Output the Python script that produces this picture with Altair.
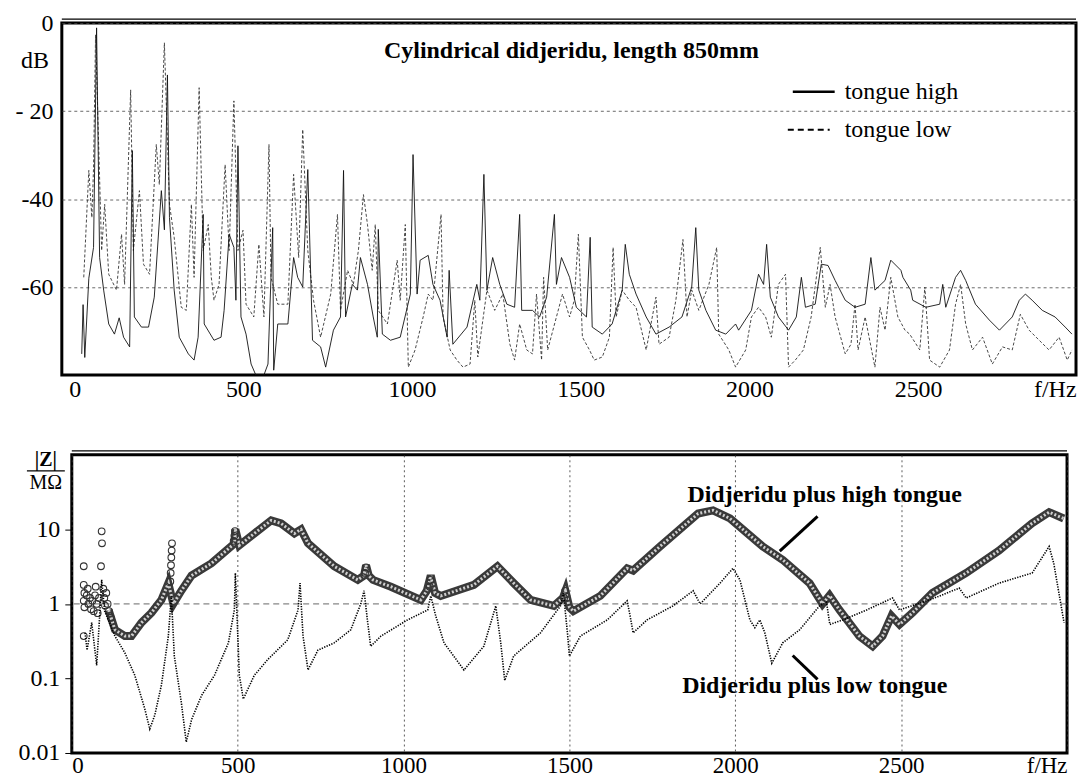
import altair as alt
import pandas as pd

FONT = "Liberation Serif"

# ---------------- top panel: spectra (f in Hz, level in dB) ----------------
TOP_HIGH_F = [21, 25, 30, 42, 56, 65, 74, 86, 101, 118,
              132, 145, 163, 171, 177, 198, 219, 236, 257, 266,
              275, 281, 295, 310, 337, 354, 366, 381, 384, 413,
              434, 443, 458, 472, 478, 484, 493, 508, 523, 537,
              561, 573, 587, 590, 602, 632, 649, 661, 676, 691,
              705, 729, 744, 767, 788, 797, 803, 823, 838, 847,
              868, 885, 897, 900, 912, 936, 965, 995, 1003, 1015,
              1024, 1048, 1062, 1083, 1104, 1110, 1121, 1163, 1192, 1201,
              1213, 1222, 1239, 1260, 1281, 1304, 1319, 1325, 1357, 1378,
              1399, 1422, 1428, 1443, 1467, 1487, 1517, 1528, 1534, 1564,
              1593, 1623, 1632, 1644, 1664, 1694, 1723, 1762, 1800, 1829,
              1841, 1850, 1871, 1900, 1930, 1959, 1968, 2006, 2027, 2042,
              2051, 2062, 2086, 2116, 2139, 2154, 2166, 2195, 2213, 2233,
              2254, 2284, 2313, 2343, 2360, 2372, 2402, 2419, 2449, 2455,
              2478, 2484, 2523, 2564, 2573, 2582, 2611, 2626, 2641, 2670,
              2711, 2741, 2779, 2800, 2818, 2838, 2868, 2906, 2936, 2956]
TOP_HIGH_DB = [-75.2, -64, -76, -58, -51, -1.1, -53.3, -60.7, -68.4, -70.7,
               -67, -71.4, -73.6, -29, -66.8, -69.1, -69.1, -62.3, -38.1, -47,
               -11.8, -44.2, -60.7, -71.4, -75.2, -76.6, -71.4, -43.5, -68.4, -72.1,
               -71.4, -65.3, -48, -51, -63, -27.9, -66.8, -70.7, -77.5, -80,
               -80, -77.5, -46.5, -78.9, -68.4, -68.4, -53.3, -57.8, -60, -33.3,
               -72.1, -73.6, -78.2, -69.8, -66.8, -33.5, -66.8, -59.4, -60.7, -53.3,
               -59.4, -66.8, -71.4, -46.9, -70.7, -72.1, -71.4, -61.6, -29.9, -61.6,
               -53.9, -52.8, -59.4, -63, -71.4, -56.2, -73, -69.1, -59.4, -63,
               -34.4, -60.7, -53.3, -59.4, -63.9, -64.6, -43.5, -65.3, -65.3, -66.8,
               -62.3, -43.5, -59.4, -53.3, -57.8, -64.6, -66.8, -48.7, -69.1, -70.7,
               -68.4, -60.7, -50.3, -57.1, -61.6, -66.8, -70.7, -69.1, -66.8, -60,
               -46.5, -60.7, -65.3, -69.8, -70.7, -68.4, -69.8, -65.3, -57.1, -59.4,
               -50.3, -62.3, -66.8, -69.8, -66.8, -57.8, -64.6, -63.9, -54.8, -55.1,
               -58.5, -63, -64.6, -63.9, -53.3, -60.7, -58.5, -53.9, -56.2, -57.8,
               -60.7, -63, -64.6, -63.9, -59.4, -64.6, -57.8, -56.2, -58.5, -63.9,
               -67.5, -69.8, -66.8, -63, -61.6, -63, -65.3, -66.8, -69.1, -70.7]

TOP_LOW_F = [27, 42, 51, 56, 62, 80, 89, 101, 124, 139,
             148, 166, 174, 192, 204, 222, 242, 251, 266, 281,
             295, 316, 331, 346, 354, 369, 381, 396, 405, 413,
             428, 446, 458, 472, 484, 499, 508, 531, 546, 561,
             576, 582, 602, 632, 649, 664, 676, 691, 708, 729,
             759, 779, 788, 809, 826, 841, 856, 868, 882, 891,
             900, 927, 956, 965, 980, 989, 1009, 1033, 1048, 1062,
             1086, 1092, 1113, 1133, 1151, 1172, 1186, 1195, 1222, 1245,
             1269, 1290, 1304, 1319, 1340, 1357, 1369, 1384, 1390, 1402,
             1428, 1446, 1467, 1481, 1493, 1505, 1526, 1540, 1564, 1585,
             1596, 1605, 1623, 1644, 1664, 1694, 1723, 1732, 1762, 1782,
             1803, 1815, 1829, 1850, 1880, 1903, 1909, 1939, 1959, 1989,
             2006, 2027, 2048, 2065, 2086, 2107, 2116, 2136, 2160, 2183,
             2210, 2225, 2239, 2254, 2284, 2301, 2313, 2322, 2343, 2372,
             2387, 2402, 2419, 2440, 2461, 2475, 2505, 2520, 2534, 2564,
             2593, 2611, 2626, 2641, 2661, 2691, 2720, 2750, 2779, 2803,
             2829, 2859, 2888, 2918, 2942, 2956]
TOP_LOW_DB = [-57.8, -33.5, -44.2, -32.9, -2.7, -51.7, -41.2, -57.1, -60.7, -48,
              -59.4, -15.2, -51.7, -38.1, -54.8, -57.1, -27.6, -36.7, -4.5, -41.2,
              -48.7, -64.6, -65.3, -41.2, -57.8, -14.7, -51.7, -45.8, -57.8, -63,
              -59.4, -32.2, -51.7, -17.7, -51.7, -47.1, -63.9, -66.8, -50.3, -66.8,
              -27.6, -57.8, -63.9, -63.9, -34.4, -53.3, -24.2, -51.7, -63, -71.4,
              -61.6, -43.5, -65.3, -56.2, -59.4, -51.7, -39, -45.8, -56.2, -45.8,
              -65.3, -68.4, -53.9, -63, -45.8, -78.2, -74.3, -66.8, -61.6, -63,
              -43.5, -66.8, -74.3, -76.6, -78.2, -77.5, -63, -75.9, -60.7, -65.3,
              -61.6, -73, -76.6, -68.4, -74.3, -75.2, -61.6, -76.6, -57.8, -74.3,
              -66.8, -61.6, -66.8, -63, -48, -71.4, -74.3, -76.6, -75.9, -71.4,
              -51, -66.8, -60.7, -63, -64.6, -74.3, -62.3, -73, -71.4, -63,
              -49.2, -66.8, -60.7, -65.3, -59.4, -51, -70.7, -74.3, -78.2, -74.3,
              -66.8, -64.6, -66.8, -71.4, -59.4, -57.1, -78.2, -76.6, -74.3, -66.8,
              -51, -64.6, -59.4, -66.8, -75.2, -73, -63.9, -74.3, -66.8, -78.2,
              -64.6, -69.8, -57.8, -66.8, -69.8, -70.7, -74.3, -60, -76.6, -78.2,
              -74.3, -63.9, -59.4, -68.4, -74.3, -71.4, -77.5, -73.6, -74.3, -66.2,
              -69.8, -72.1, -74.3, -71.4, -76.6, -74.3]

TOP_XTICKS = [0, 500, 1000, 1500, 2000, 2500, 2968]
TOP_YTICKS = [0, -20, -40, -60]

# ---------------- bottom panel: impedance |Z| in MOhm ----------------
IMP_HIGH_F = [111, 130, 160, 180, 210, 240, 270, 291,
              306, 330, 361, 421, 491, 493, 505, 550, 601, 631,
              671, 691, 712, 791, 862, 881, 887, 895, 908, 962,
              1052, 1070, 1082, 1095, 1112, 1212, 1283, 1332, 1383, 1453,
              1480, 1488, 1500, 1512, 1593, 1674, 1692, 1773, 1888, 1933,
              1984, 2083, 2143, 2224, 2263, 2284, 2314, 2374, 2414, 2444,
              2471, 2495, 2534, 2594, 2696, 2795, 2894, 2946, 2990]
IMP_HIGH_Z = [0.83, 0.45, 0.37, 0.37, 0.56, 0.76, 1.13, 1.9,
              1.0, 1.5, 2.4, 3.5, 6.5, 10, 6.1, 8.8, 13.2, 12,
              8.8, 10, 6.5, 3.2, 2.1, 2.4, 3.3, 2.4, 2.1, 1.7,
              1.13, 1.5, 2.4, 1.4, 1.28, 1.8, 3.2, 1.9, 1.13, 0.94,
              1.2, 1.5, 0.9, 0.8, 1.28, 3.0, 2.8, 5.9, 16.3, 18,
              14, 5.9, 3.9, 1.9, 1.0, 1.3, 0.83, 0.37, 0.27, 0.37,
              0.69, 0.53, 0.76, 1.4, 2.6, 5.2, 12, 17, 14]

IMP_HIGH_SC_F = [36, 36, 38, 36, 38, 36, 45, 48, 50, 55, 58, 62, 66, 70, 72, 75,
                 78, 82, 88, 90, 91, 95, 98, 100, 104, 108, 112, 118,
                 297, 298, 299, 300, 301, 302, 488, 490, 492, 884, 887,
                 1079, 1081, 1484, 1487]
IMP_HIGH_SC_Z = [3.2, 1.8, 1.4, 1.1, 0.9, 0.37, 1.3, 1.6, 1.0, 1.2, 0.85, 1.1, 0.8, 1.3, 1.7, 1.0,
                 0.75, 1.2, 3.2, 9.4, 6.5, 1.6, 1.2, 0.95, 1.4, 1.0, 0.8, 0.65,
                 2.0, 2.6, 3.3, 4.2, 5.2, 6.5, 7.0, 8.2, 9.5, 2.6, 3.1,
                 1.7, 2.1, 1.2, 1.5]

IMP_LOW_F = [40, 46, 60, 75, 84, 90, 99, 130, 160, 190,
             220, 235, 250, 270, 291, 300, 309, 330, 345, 361,
             391, 430, 472, 490, 493, 505, 517, 550, 591, 651,
             682, 688, 697, 712, 742, 791, 841, 871, 881, 891,
             901, 932, 1012, 1073, 1082, 1097, 1122, 1182, 1242, 1278,
             1293, 1305, 1332, 1413, 1473, 1482, 1494, 1500, 1533, 1614,
             1674, 1683, 1692, 1734, 1812, 1873, 1894, 1954, 1993, 2014,
             2044, 2059, 2074, 2089, 2110, 2143, 2194, 2254, 2275, 2285,
             2324, 2396, 2474, 2495, 2590, 2675, 2696, 2795, 2895, 2946,
             2960, 2991]
IMP_LOW_Z = [0.41, 0.24, 0.56, 0.15, 0.69, 2.1, 0.8, 0.37, 0.22, 0.11,
             0.039, 0.021, 0.032, 0.081, 0.37, 1.28, 0.2, 0.048, 0.014, 0.028,
             0.059, 0.11, 0.30, 0.83, 2.6, 0.11, 0.053, 0.11, 0.18, 0.33,
             0.83, 1.9, 0.37, 0.13, 0.24, 0.30, 0.45, 1.0, 1.5, 0.61,
             0.27, 0.37, 0.61, 0.83, 1.28, 0.69, 0.30, 0.13, 0.27, 0.94,
             0.30, 0.094, 0.2, 0.41, 0.94, 1.4, 0.41, 0.2, 0.37, 0.61,
             1.1, 0.69, 0.41, 0.61, 0.94, 1.5, 1.0, 1.9, 3.0, 2.1,
             0.61, 0.48, 0.61, 0.41, 0.16, 0.30, 0.45, 0.94, 1.05, 0.53,
             0.61, 0.83, 1.2, 0.83, 1.15, 1.63, 1.2, 1.9, 2.6, 5.9,
             3.5, 0.56]

BOT_XTICKS = [0, 500, 1000, 1500, 2000, 2500, 3000]
BOT_YTICKS = [0.01, 0.1, 1, 10]

# annotation pointer segments (f, |Z|) -> (f2, |Z|2)
PTR_F = [2248, 2173]
PTR_Z = [14.9, 0.203]
PTR_F2 = [2134, 2248]
PTR_Z2 = [5.1, 0.097]

TOP_W, TOP_H = 1017, 353
BOT_W, BOT_H = 998, 299

one = pd.DataFrame({"k": [0]})


def txt(text, x, y, size=24, weight="normal", align="center"):
    return alt.Chart(one).mark_text(
        text=text, font=FONT, fontSize=size, fontWeight=weight,
        align=align, baseline="middle", color="black"
    ).encode(x=alt.value(x), y=alt.value(y))


# ---------------- top chart ----------------
xs_top = alt.Scale(domain=[-38, 2968], nice=False, zero=False)
ys_top = alt.Scale(domain=[-80, 0], nice=False)
x_top_axis = alt.Axis(values=TOP_XTICKS, format="d",
                      labelExpr="datum.value > 2900 ? 'f/Hz' : datum.label",
                      grid=False, ticks=False, domain=False, labelFlush=True,
                      labelFont=FONT, labelFontSize=24, labelColor="black",
                      labelPadding=3, title=None)
y_top_axis = alt.Axis(values=TOP_YTICKS,
                      labelExpr="datum.value == 0 ? '0' : (datum.value == -20 ? '- 20' : '-' + abs(datum.value))",
                      grid=True, gridDash=[3, 3], gridColor="#444", gridWidth=0.8,
                      ticks=False, domain=False, labelFont=FONT, labelFontSize=24,
                      labelColor="black", labelPadding=9, title=None)

df_th = pd.DataFrame({"f": TOP_HIGH_F, "db": TOP_HIGH_DB})
df_tl = pd.DataFrame({"f": TOP_LOW_F, "db": TOP_LOW_DB})

top_low = alt.Chart(df_tl).mark_line(color="#333", strokeWidth=0.9, strokeDash=[3, 2], clip=True).encode(
    x=alt.X("f:Q", scale=xs_top, axis=x_top_axis),
    y=alt.Y("db:Q", scale=ys_top, axis=y_top_axis))
top_high = alt.Chart(df_th).mark_line(color="#111", strokeWidth=0.9, clip=True).encode(
    x=alt.X("f:Q", scale=xs_top), y=alt.Y("db:Q", scale=ys_top))

top_border2 = alt.Chart(one).mark_rule(color="black", strokeWidth=1.2).encode(
    x=alt.value(0), x2=alt.value(TOP_W), y=alt.value(-4))
leg_solid = alt.Chart(one).mark_rule(color="black", strokeWidth=2.5).encode(
    x=alt.value(733), x2=alt.value(775), y=alt.value(69))
leg_dash = alt.Chart(one).mark_rule(color="black", strokeWidth=2, strokeDash=[6, 4]).encode(
    x=alt.value(728), x2=alt.value(770), y=alt.value(107))

top = alt.layer(
    top_low, top_high, top_border2, leg_solid, leg_dash,
    txt("Cylindrical didjeridu, length 850mm", 511, 28, weight="bold"),
    txt("tongue high", 785, 69, align="left"),
    txt("tongue low", 785, 107, align="left"),
    txt("dB", -13, 38, align="right"),
).properties(width=TOP_W, height=TOP_H)

# ---------------- bottom chart ----------------
xs_bot = alt.Scale(domain=[0, 3000], nice=False, zero=False)
ys_bot = alt.Scale(type="log", domain=[0.01, 100], nice=False)
x_bot_axis = alt.Axis(values=BOT_XTICKS, format="d",
                      labelExpr="datum.value == 3000 ? 'f/Hz' : datum.label",
                      grid=True, gridDash=[2, 3], gridColor="#333", gridWidth=0.8,
                      ticks=False, domain=False, labelFlush=True,
                      labelFont=FONT, labelFontSize=23, labelColor="black",
                      labelPadding=2, title=None)
y_bot_axis = alt.Axis(values=BOT_YTICKS, format="~g", grid=False,
                      ticks=True, tickSize=7, tickColor="black", domain=False,
                      labelFont=FONT, labelFontSize=24, labelColor="black",
                      labelPadding=5, title=None, labelOverlap=False)

df_bh = pd.DataFrame({"f": IMP_HIGH_F, "z": IMP_HIGH_Z})
df_bs = pd.DataFrame({"f": IMP_HIGH_SC_F, "z": IMP_HIGH_SC_Z})
df_bl = pd.DataFrame({"f": IMP_LOW_F, "z": IMP_LOW_Z})
df_ptr = pd.DataFrame({"f": PTR_F, "z": PTR_Z, "f2": PTR_F2, "z2": PTR_Z2})

grid1 = alt.Chart(one).mark_rule(color="#555", strokeWidth=0.9, strokeDash=[6, 4]).encode(
    y=alt.datum(1, scale=ys_bot))
band_outer = alt.Chart(df_bh).mark_line(color="#3a3a3a", strokeWidth=8, clip=True).encode(
    x=alt.X("f:Q", scale=xs_bot, axis=x_bot_axis),
    y=alt.Y("z:Q", scale=ys_bot, axis=y_bot_axis))
band_inner = alt.Chart(df_bh).mark_line(color="#cfcfcf", strokeWidth=3, strokeDash=[2, 2], clip=True).encode(
    x=alt.X("f:Q", scale=xs_bot), y=alt.Y("z:Q", scale=ys_bot))
scatter = alt.Chart(df_bs).mark_point(shape="circle", filled=False, size=45, strokeWidth=1.1,
                                      color="#333", opacity=1).encode(
    x=alt.X("f:Q", scale=xs_bot), y=alt.Y("z:Q", scale=ys_bot))
low_line = alt.Chart(df_bl).mark_line(color="black", strokeWidth=1.6, strokeDash=[1.3, 1.3], clip=True).encode(
    x=alt.X("f:Q", scale=xs_bot), y=alt.Y("z:Q", scale=ys_bot))
pointers = alt.Chart(df_ptr).mark_rule(color="black", strokeWidth=3).encode(
    x=alt.X("f:Q", scale=xs_bot), y=alt.Y("z:Q", scale=ys_bot),
    x2="f2:Q", y2="z2:Q")
bot_border2 = alt.Chart(one).mark_rule(color="black", strokeWidth=1.2).encode(
    x=alt.value(0), x2=alt.value(BOT_W), y=alt.value(-4))
frac = alt.Chart(one).mark_rule(color="black", strokeWidth=1.2).encode(
    x=alt.value(-45), x2=alt.value(-7), y=alt.value(16))

bottom = alt.layer(
    grid1, band_outer, band_inner, scatter, low_line, pointers, bot_border2, frac,
    txt("Didjeridu plus high tongue", 755, 40, weight="bold"),
    txt("Didjeridu plus low tongue", 745, 232, weight="bold"),
    txt("|Z|", -26, 5, size=20, weight="bold"),
    txt("M\u03a9", -26, 28, size=20),
).properties(width=BOT_W, height=BOT_H)

spacer = alt.Chart(one).mark_point(opacity=0).encode(
    x=alt.X("k:Q", axis=None), y=alt.Y("k:Q", axis=None)
).properties(width=1, height=BOT_H, view=alt.ViewBackground(stroke="transparent"))

chart = alt.vconcat(
    top,
    alt.hconcat(spacer, bottom, spacing=9, bounds="flush"),
    spacing=80, bounds="flush",
).properties(
    padding={"left": 13, "top": 8, "right": 0, "bottom": 0},
    background="white",
).configure_view(stroke="black", strokeWidth=3)

chart.save("out.html", embed_options={"renderer": "svg", "actions": False})
